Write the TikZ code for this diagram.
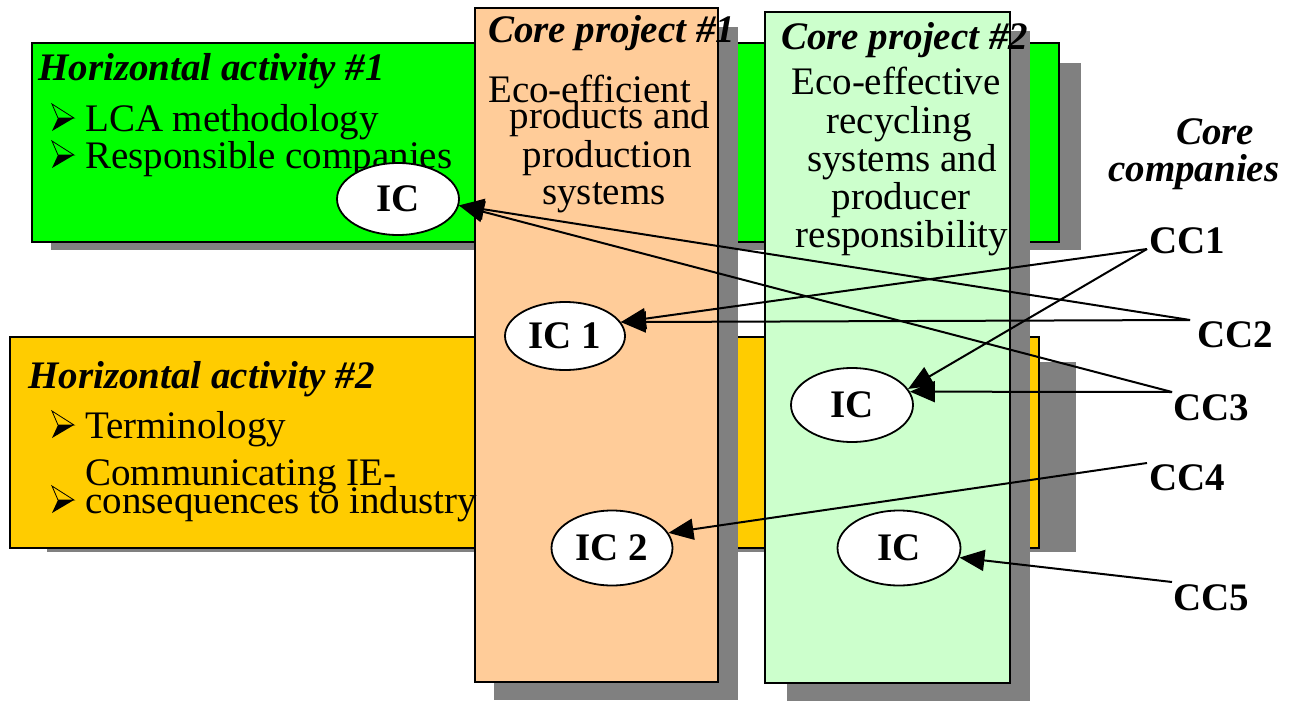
\documentclass[tikz,border=0pt]{standalone}
\usepackage{fontspec}
\setmainfont{Liberation Serif}
\usetikzlibrary{arrows.meta,shapes.geometric}
\definecolor{hgreen}{HTML}{00FF00}
\definecolor{hyellow}{HTML}{FFCC00}
\definecolor{corange}{HTML}{FFCC99}
\definecolor{cgreen}{HTML}{CCFFCC}
\definecolor{shadowgray}{HTML}{808080}
\begin{document}
\begin{tikzpicture}[x=1pt,y=-1pt,
  shadowbox/.style={fill=shadowgray,draw=none},
  panel/.style={draw=black,line width=1.8pt},
  txt/.style={inner sep=0pt,font=\fontsize{39}{38}\selectfont},
  ttl/.style={inner sep=0pt,font=\fontsize{39}{38}\selectfont\bfseries\itshape},
  cclabel/.style={inner sep=0pt,anchor=base west,font=\fontsize{39}{38}\selectfont\bfseries},
  icnode/.style={ellipse,draw=black,fill=white,line width=1.8pt,inner sep=0pt,
    minimum width=122pt,minimum height=72pt,font=\fontsize{39}{38}\selectfont\bfseries},
  conn/.style={line width=2pt,-{Triangle[length=25pt,width=21pt]}},
  bul/.pic={
    \draw[line width=0.8pt] (0,0) -- (22,14) -- (6,14) -- cycle;
    \fill[black] (6,14) -- (22,14) -- (0,27) -- cycle;
  }
]
\useasboundingbox (0,0) rectangle (1290,701);
% horizontal activity #1
\fill[shadowbox] (51,63) rectangle (1081,250);
\draw[panel,fill=hgreen] (32,43) rectangle (1059,242);
% horizontal activity #2
\fill[shadowbox] (47,362) rectangle (1076,552);
\draw[panel,fill=hyellow] (10,337) rectangle (1039,548);
% core project #1
\fill[shadowbox] (494,27) rectangle (738,700);
\draw[panel,fill=corange] (475,8) rectangle (718,682);
% core project #2
\fill[shadowbox] (787,31) rectangle (1030,701);
\draw[panel,fill=cgreen] (765,12) rectangle (1010,683);

% texts horizontal activity #1
\node[ttl,anchor=base west] (h1t) at (38,81) {Horizontal activity \#1};
\pic at (52,104) {bul};
\node[txt,anchor=base west] (h1a) at (85,131) {LCA methodology};
\pic at (52,141) {bul};
\node[txt,anchor=base west] (h1b) at (85,168) {Responsible companies};

% texts horizontal activity #2
\node[ttl,anchor=base west] (h2t) at (28,388) {Horizontal activity \#2};
\pic at (52,411) {bul};
\node[txt,anchor=base west] (h2a) at (85,438) {Terminology};
\node[txt,anchor=base west] (h2b) at (85,485) {Communicating IE-};
\pic at (52,486) {bul};
\node[txt,anchor=base west] (h2c) at (85,513) {consequences to industry};

% core project #1
\node[ttl,anchor=base west] (c1t) at (488,43) {Core project \#1};
\node[txt,anchor=base west] (c1a) at (488,102) {Eco-efficient};
\node[txt,anchor=base] (c1b) at (610,128) {products and};
\node[txt,anchor=base] (c1c) at (607,167) {production};
\node[txt,anchor=base] (c1d) at (604,204) {systems};

% core project #2
\node[ttl,anchor=base west] (c2t) at (781,49) {Core project \#2};
\node[txt,anchor=base] (c2a) at (896,95) {Eco-effective};
\node[txt,anchor=base] (c2b) at (899,133) {recycling};
\node[txt,anchor=base] (c2c) at (902,171) {systems and};
\node[txt,anchor=base] (c2d) at (901,209) {producer};
\node[txt,anchor=base] (c2e) at (902,247) {responsibility};

% core companies
\node[ttl,anchor=base west] (cct1) at (1176,144) {Core};
\node[ttl,anchor=base west] (cct2) at (1108,181) {companies};
\node[cclabel] (cc1) at (1149,253) {CC1};
\node[cclabel] (cc2) at (1197,347) {CC2};
\node[cclabel] (cc3) at (1173,420) {CC3};
\node[cclabel] (cc4) at (1149,490) {CC4};
\node[cclabel] (cc5) at (1173,610) {CC5};
\coordinate (cc1s) at (1147,249);
\coordinate (cc2s) at (1190,320);
\coordinate (cc3s) at (1172,392);
\coordinate (cc4s) at (1147,463);
\coordinate (cc5s) at (1172,582);

% IC ellipses
\node[icnode,minimum height=72pt] (icA) at (398,199) {IC};
\node[icnode,minimum width=120pt,minimum height=68pt] (ic1) at (565,336) {IC 1};
\node[icnode,minimum height=74pt] (icB) at (852,405) {IC};
\node[icnode,minimum width=121pt,minimum height=75pt] (ic2) at (612,548) {IC 2};
\node[icnode,minimum width=123pt,minimum height=75pt] (icC) at (899,548) {IC};

% connectors
\draw[conn] (cc1s) -- (ic1.14);
\draw[conn] (cc1s) -- (icB.16);
\draw[conn] (cc2s) -- (ic1.14);
\draw[conn] (cc2s) -- (icA.-6);
\draw[conn] (cc3s) -- (icB.13);
\draw[conn] (cc3s) -- (icA.-6);
\draw[conn] (cc4s) -- (ic2.15);
\draw[conn] (cc5s) -- (icC.-9);
\end{tikzpicture}
\end{document}
